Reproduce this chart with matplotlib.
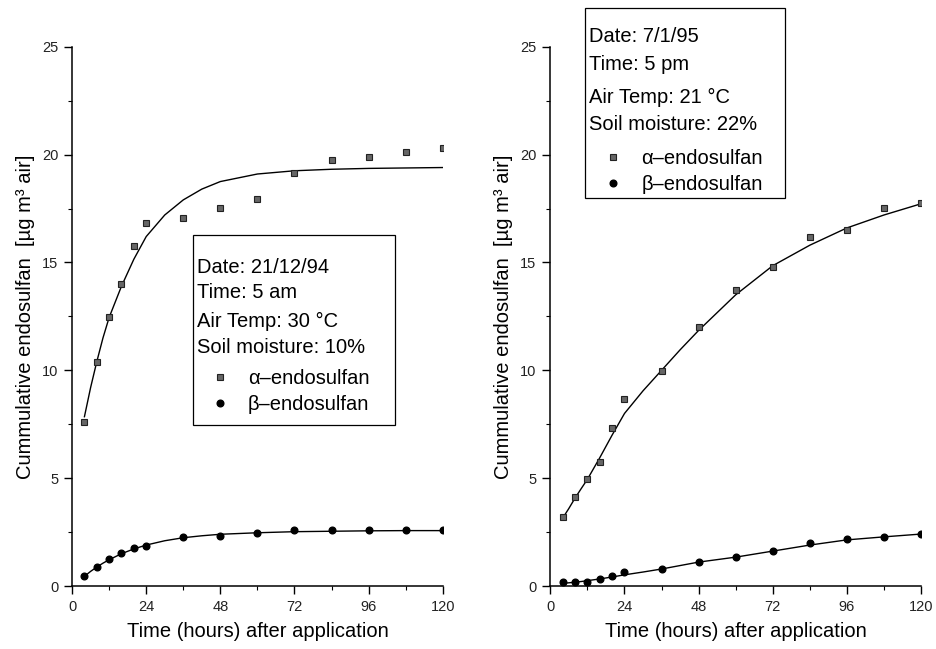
import numpy as np
from matplotlib import pyplot as plt
from matplotlib.patches import Rectangle

plt.rcParams['font.family'] = ['Liberation Sans', 'DejaVu Sans']

# sampling times (hours)
hours = [4, 8, 12, 16, 20, 24, 36, 48, 60, 72, 84, 96, 108, 120]

# 21/12/94 run
alpha_1 = [7.62, 10.4, 12.46, 14.0, 15.74, 16.84, 17.08, 17.52, 17.95, 19.14, 19.74, 19.87, 20.13, 20.32]
beta_1 = [0.46, 0.9, 1.27, 1.52, 1.75, 1.86, 2.29, 2.3, 2.44, 2.6, 2.6, 2.6, 2.6, 2.6]

# 7/1/95 run
alpha_2 = [3.19, 4.11, 4.95, 5.77, 7.31, 8.69, 9.99, 12.0, 13.73, 14.78, 16.2, 16.5, 17.52, 17.75]
beta_2 = [0.2, 0.2, 0.2, 0.34, 0.46, 0.65, 0.8, 1.13, 1.34, 1.62, 1.99, 2.16, 2.28, 2.41]

# fitted curves
fit_hours = [4, 6, 8, 10, 12, 16, 20, 24, 30, 36, 42, 48, 60, 72, 84, 96, 108, 120]
alpha_1_fit = [7.85, 9.2, 10.4, 11.5, 12.45, 13.9, 15.15, 16.2, 17.2, 17.9, 18.4, 18.75, 19.1, 19.25, 19.32, 19.36, 19.38, 19.4]
beta_1_fit = [0.45, 0.68, 0.88, 1.06, 1.22, 1.5, 1.72, 1.9, 2.1, 2.24, 2.33, 2.4, 2.47, 2.52, 2.54, 2.56, 2.57, 2.57]
alpha_2_fit = [3.15, 3.6, 4.08, 4.52, 4.95, 5.95, 7.0, 8.0, 9.05, 10.0, 10.95, 11.85, 13.5, 14.85, 15.8, 16.6, 17.2, 17.72]
beta_2_fit = [0.13, 0.15, 0.18, 0.21, 0.25, 0.33, 0.42, 0.52, 0.65, 0.79, 0.95, 1.11, 1.34, 1.62, 1.9, 2.14, 2.28, 2.41]

info_1 = ['Date: 21/12/94', 'Time: 5 am', 'Air Temp: 30 \u00b0C', 'Soil moisture: 10%']
info_2 = ['Date: 7/1/95', 'Time: 5 pm', 'Air Temp: 21 \u00b0C', 'Soil moisture: 22%']
series_names = ['\u03b1\u2013endosulfan', '\u03b2\u2013endosulfan']

fig = plt.figure(figsize=(9.36, 6.49), dpi=100)
ax1 = fig.add_axes([0.077, 0.097, 0.396, 0.831])
ax2 = fig.add_axes([0.588, 0.097, 0.396, 0.831])

panels = [
    (ax1, alpha_1, beta_1, alpha_1_fit, beta_1_fit, info_1,
     # box (x0, y0, x1, y1), text x, line ys, legend anchor (axes fraction)
     (0.326, 0.299, 0.871, 0.651), 0.337, [0.590, 0.544, 0.490, 0.443], (0.377, 0.403)),
    (ax2, alpha_2, beta_2, alpha_2_fit, beta_2_fit, info_2,
     (0.094, 0.720, 0.633, 1.072), 0.105, [1.019, 0.967, 0.905, 0.855], (0.148, 0.811)),
]

for ax, a, b, a_fit, b_fit, info, box, tx, ys, anchor in panels:
    ax.plot(fit_hours, a_fit, color='black', lw=1.0)
    ax.plot(fit_hours, b_fit, color='black', lw=1.0)
    pa, = ax.plot(hours, a, ls='none', marker='s', ms=4.5, mfc='#666666', mec='#222222', mew=0.8)
    pb, = ax.plot(hours, b, ls='none', marker='o', ms=4.8, mfc='black', mec='black')

    ax.set_xlim(0, 120)
    ax.set_ylim(0, 25)
    ax.set_xticks([0, 24, 48, 72, 96, 120])
    ax.set_xticks([12, 36, 60, 84, 108], minor=True)
    ax.set_yticks([0, 5, 10, 15, 20, 25])
    ax.set_yticks(np.arange(2.5, 25, 5), minor=True)
    ax.spines['top'].set_visible(False)
    ax.spines['right'].set_visible(False)
    ax.spines['left'].set_linewidth(1.1)
    ax.spines['bottom'].set_linewidth(1.1)
    ax.tick_params(which='major', direction='out', length=6, width=1.0, pad=4,
                   labelsize=10.5, labelcolor='#222222')
    ax.tick_params(which='minor', direction='out', length=3, width=0.8)
    ax.set_xlabel('Time (hours) after application', fontsize=14.5, labelpad=6)
    ax.set_ylabel('Cummulative endosulfan  [\u00b5g m\u00b3 air]', fontsize=14.5, labelpad=5)

    # info box
    x0, y0, x1, y1 = box
    ax.add_patch(Rectangle((x0, y0), x1 - x0, y1 - y0, transform=ax.transAxes,
                           fill=False, ec='black', lw=0.9, clip_on=False))
    for line, y in zip(info, ys):
        ax.text(tx, y, line, transform=ax.transAxes, fontsize=14.5, va='center', ha='left')

    ax.legend([pa, pb], series_names, loc='upper left', bbox_to_anchor=anchor,
              frameon=False, fontsize=14.5, handlelength=0.8, handletextpad=1.0,
              borderpad=0, borderaxespad=0, labelspacing=0.35, markerscale=1.0)

fig.savefig('out.png', dpi=100)
